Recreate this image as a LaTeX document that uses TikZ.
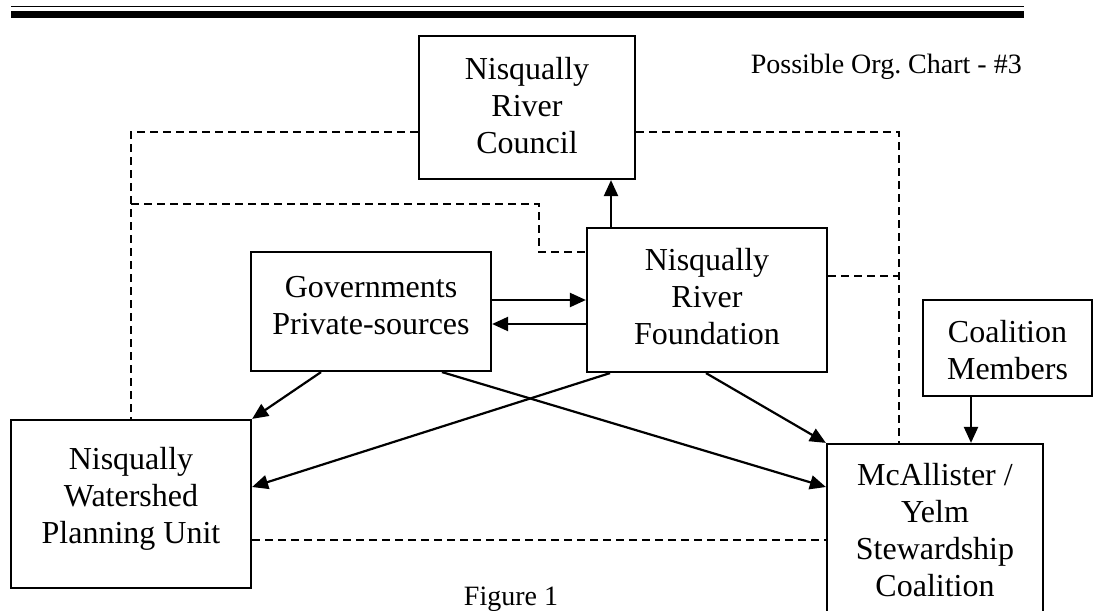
\documentclass[tikz,border=0pt]{standalone}
\usepackage{fontspec}
\setmainfont{Liberation Serif}
\usetikzlibrary{arrows.meta}
\begin{document}
\begin{tikzpicture}[x=1pt,y=-1pt,
  box/.style={draw, line width=2.2pt, inner sep=0pt},
  lbl/.style={align=center, inner sep=0pt, font=\fontsize{32}{37}\selectfont},
  small/.style={inner sep=0pt, font=\fontsize{28}{32}\selectfont},
  arr/.style={line width=2.2pt, -{Triangle[length=16pt,width=14pt]}},
  dsh/.style={line width=1.7pt, dash pattern=on 8pt off 5pt}]
\useasboundingbox (0,0) rectangle (1094,610);
% header rules
\coordinate (r1a) at (11,6.7); \coordinate (r1b) at (1024,6.7);
\coordinate (r2a) at (11,14.4); \coordinate (r2b) at (1024,14.4);
\draw[line width=1.5pt] (r1a) -- (r1b);
\draw[line width=6.6pt] (r2a) -- (r2b);
% boxes
\node[box, minimum width=216pt, minimum height=143pt] (council) at (527,107.5) {};
\node[lbl] (councilt) at (527,105.5) {Nisqually\\River\\Council};
\node[box, minimum width=240pt, minimum height=144pt] (found) at (707,300) {};
\node[lbl] (foundt) at (707,297) {Nisqually\\River\\Foundation};
\node[box, minimum width=240pt, minimum height=119pt] (gov) at (371,311.5) {};
\node[lbl] (govt) at (371,306) {Governments\\Private-sources};
\node[box, minimum width=169pt, minimum height=96pt] (coal) at (1007.5,348) {};
\node[lbl] (coalt) at (1007.5,350.5) {Coalition\\Members};
\node[box, minimum width=240pt, minimum height=168pt] (plan) at (131,504) {};
\node[lbl] (plant) at (131,499) {Nisqually\\Watershed\\Planning Unit};
\node[box, minimum width=216pt, minimum height=174pt] (mcal) at (935,531) {};
\node[lbl] (mcalt) at (935,530) {McAllister /\\Yelm\\Stewardship\\Coalition};
\node[small, anchor=east] (title) at (1022,67) {Possible Org.\ Chart - \#3};
\node[small] (fig) at (511,599) {Figure 1};
% dashed links
\coordinate (d1) at (131,132);
\coordinate (d2a) at (131,204);
\coordinate (d2b) at (539,252);
\coordinate (d3) at (899,132);
\coordinate (d4) at (899,276);
\coordinate (d5) at (0,540);
\draw[dsh] (d1 -| council.west) -- (d1) -- (d1 |- plan.north);
\draw[dsh] (d2a) -| (d2b) -- (d2b -| found.west);
\draw[dsh] (d3 -| council.east) -- (d3) -- (d3 |- mcal.north);
\draw[dsh] (d4 -| found.east) -- (d4);
\draw[dsh] (d5 -| plan.east) -- (d5 -| mcal.west);
% arrows
\draw[arr] ([xshift=-96pt]found.north) -- ([xshift=-96pt]found.north |- council.south);
\draw[arr] ([yshift=11.5pt]gov.east) -- ([yshift=11.5pt]gov.east -| found.west);
\draw[arr] ([yshift=-12.5pt]gov.east -| found.west) -- ([yshift=-12.5pt]gov.east);
\draw[arr] ([xshift=-50pt]gov.south) -- (plan.north east);
\draw[arr] ([xshift=71pt]gov.south) -- ([yshift=44pt]mcal.west);
\draw[arr] ([xshift=-97pt]found.south) -- ([yshift=17pt]plan.east);
\draw[arr] ([xshift=-1pt]found.south) -- (mcal.north west);
\draw[arr] ([xshift=-36.5pt]coal.south) -- ([xshift=-36.5pt]coal.south |- mcal.north);
\end{tikzpicture}
\end{document}
